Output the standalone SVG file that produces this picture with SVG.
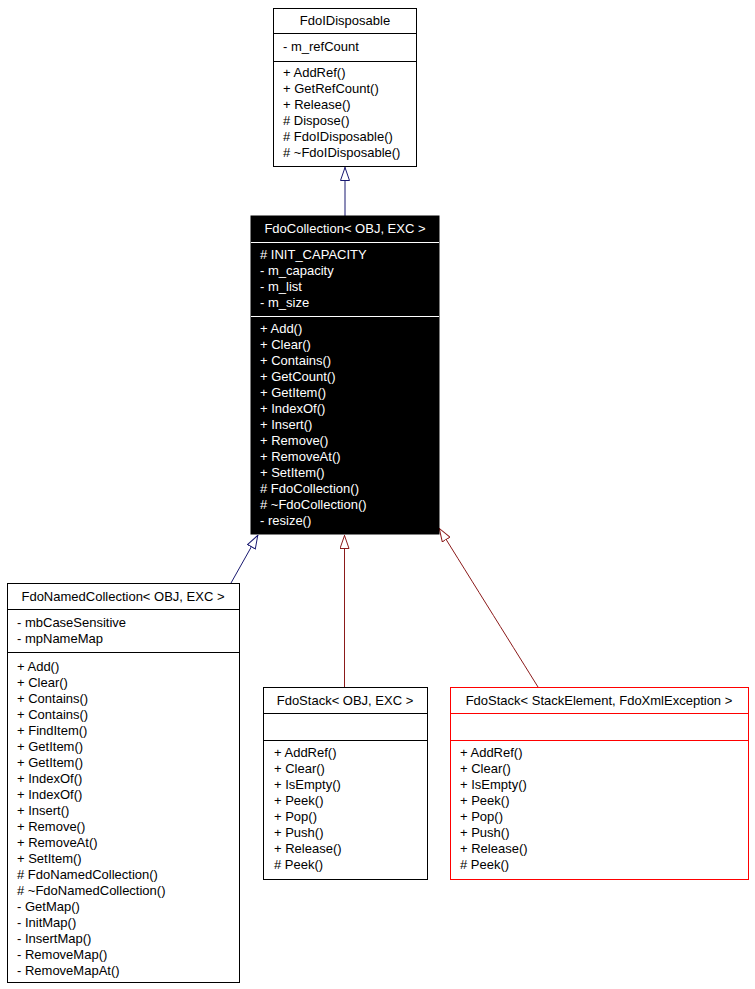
<svg xmlns="http://www.w3.org/2000/svg" width="755" height="989" viewBox="0 0 755 989">
<style>
text{font-family:"Liberation Sans",Arial,sans-serif;font-size:13px;fill:#000}
.box{fill:#fff;stroke:#000;stroke-width:1}
.sep{stroke:#000;stroke-width:1}
.dark rect{fill:#000;stroke:#000}
.dark line{stroke:#fff}
.dark text{fill:#fff}
.red{fill:#fff;stroke:#ff0000;stroke-width:1}
.sepred{stroke:#ff0000;stroke-width:1}
.t{text-anchor:middle}
.blue{stroke:#191970;stroke-width:1;fill:none;marker-end:url(#hb)}
.dred{stroke:#8b1a1a;stroke-width:1;fill:none;marker-end:url(#hr)}
</style>
<defs>
<marker id="hb" viewBox="0 0 14 10" refX="14" refY="5" markerWidth="14" markerHeight="10" markerUnits="userSpaceOnUse" orient="auto">
<path d="M0.5,0.5 L13.5,5 L0.5,9.5 Z" fill="#fff" stroke="#191970" stroke-width="1"/>
</marker>
<marker id="hr" viewBox="0 0 14 10" refX="14" refY="5" markerWidth="14" markerHeight="10" markerUnits="userSpaceOnUse" orient="auto">
<path d="M0.5,0.5 L13.5,5 L0.5,9.5 Z" fill="#fff" stroke="#8b1a1a" stroke-width="1"/>
</marker>
</defs>
<rect width="755" height="989" fill="#fff"/>

<g id="connectors">
<line class="blue" x1="345" y1="216" x2="345" y2="167"/>
<line class="blue" x1="231" y1="583" x2="258" y2="535"/>
<line class="dred" x1="344.5" y1="687" x2="344.5" y2="535"/>
<path class="dred" d="M538,687 C520,658 470,578 439,528"/>
</g>

<g id="FdoIDisposable">
<rect class="box" x="273.5" y="8.5" width="143" height="158"/>
<line class="sep" x1="273.5" y1="33.5" x2="416.5" y2="33.5"/>
<line class="sep" x1="273.5" y1="61.5" x2="416.5" y2="61.5"/>
<text class="t" x="345" y="24.5">FdoIDisposable</text>
<text x="283" y="51">- m_refCount</text>
<text x="283" y="76.5">+ AddRef()</text>
<text x="283" y="92.5">+ GetRefCount()</text>
<text x="283" y="108.5">+ Release()</text>
<text x="283" y="124.5"># Dispose()</text>
<text x="283" y="140.5"># FdoIDisposable()</text>
<text x="283" y="156.5"># ~FdoIDisposable()</text>
</g>

<g id="FdoCollection" class="dark">
<rect x="251" y="216" width="188" height="318"/>
<line x1="251" y1="242.5" x2="439" y2="242.5"/>
<line x1="251" y1="316.5" x2="439" y2="316.5"/>
<text class="t" x="345" y="232.5">FdoCollection&lt; OBJ, EXC &gt;</text>
<text x="260" y="259"># INIT_CAPACITY</text>
<text x="260" y="275">- m_capacity</text>
<text x="260" y="291">- m_list</text>
<text x="260" y="307">- m_size</text>
<text x="260" y="333">+ Add()</text>
<text x="260" y="349">+ Clear()</text>
<text x="260" y="365">+ Contains()</text>
<text x="260" y="381">+ GetCount()</text>
<text x="260" y="397">+ GetItem()</text>
<text x="260" y="413">+ IndexOf()</text>
<text x="260" y="429">+ Insert()</text>
<text x="260" y="445">+ Remove()</text>
<text x="260" y="461">+ RemoveAt()</text>
<text x="260" y="477">+ SetItem()</text>
<text x="260" y="493"># FdoCollection()</text>
<text x="260" y="509"># ~FdoCollection()</text>
<text x="260" y="525">- resize()</text>
</g>

<g id="FdoNamedCollection">
<rect class="box" x="7.5" y="583.5" width="232" height="399"/>
<line class="sep" x1="7.5" y1="609.5" x2="239.5" y2="609.5"/>
<line class="sep" x1="7.5" y1="652.5" x2="239.5" y2="652.5"/>
<text class="t" x="123" y="601">FdoNamedCollection&lt; OBJ, EXC &gt;</text>
<text x="17" y="626.5">- mbCaseSensitive</text>
<text x="17" y="642.5">- mpNameMap</text>
<text x="17" y="670.5">+ Add()</text>
<text x="17" y="686.5">+ Clear()</text>
<text x="17" y="702.5">+ Contains()</text>
<text x="17" y="718.5">+ Contains()</text>
<text x="17" y="734.5">+ FindItem()</text>
<text x="17" y="750.5">+ GetItem()</text>
<text x="17" y="766.5">+ GetItem()</text>
<text x="17" y="782.5">+ IndexOf()</text>
<text x="17" y="798.5">+ IndexOf()</text>
<text x="17" y="814.5">+ Insert()</text>
<text x="17" y="830.5">+ Remove()</text>
<text x="17" y="846.5">+ RemoveAt()</text>
<text x="17" y="862.5">+ SetItem()</text>
<text x="17" y="878.5"># FdoNamedCollection()</text>
<text x="17" y="894.5"># ~FdoNamedCollection()</text>
<text x="17" y="910.5">- GetMap()</text>
<text x="17" y="926.5">- InitMap()</text>
<text x="17" y="942.5">- InsertMap()</text>
<text x="17" y="958.5">- RemoveMap()</text>
<text x="17" y="974.5">- RemoveMapAt()</text>
</g>

<g id="FdoStack_OBJ_EXC">
<rect class="box" x="263.5" y="687.5" width="164" height="192"/>
<line class="sep" x1="263.5" y1="713.5" x2="427.5" y2="713.5"/>
<line class="sep" x1="263.5" y1="740.5" x2="427.5" y2="740.5"/>
<text class="t" x="345" y="704.5">FdoStack&lt; OBJ, EXC &gt;</text>
<text x="274" y="756.5">+ AddRef()</text>
<text x="274" y="772.5">+ Clear()</text>
<text x="274" y="788.5">+ IsEmpty()</text>
<text x="274" y="804.5">+ Peek()</text>
<text x="274" y="820.5">+ Pop()</text>
<text x="274" y="836.5">+ Push()</text>
<text x="274" y="852.5">+ Release()</text>
<text x="274" y="868.5"># Peek()</text>
</g>

<g id="FdoStack_StackElement">
<rect class="red" x="450.5" y="687.5" width="298" height="192"/>
<line class="sepred" x1="450.5" y1="713.5" x2="748.5" y2="713.5"/>
<line class="sepred" x1="450.5" y1="740.5" x2="748.5" y2="740.5"/>
<text class="t" x="599" y="704.5">FdoStack&lt; StackElement, FdoXmlException &gt;</text>
<text x="460" y="756.5">+ AddRef()</text>
<text x="460" y="772.5">+ Clear()</text>
<text x="460" y="788.5">+ IsEmpty()</text>
<text x="460" y="804.5">+ Peek()</text>
<text x="460" y="820.5">+ Pop()</text>
<text x="460" y="836.5">+ Push()</text>
<text x="460" y="852.5">+ Release()</text>
<text x="460" y="868.5"># Peek()</text>
</g>
</svg>
